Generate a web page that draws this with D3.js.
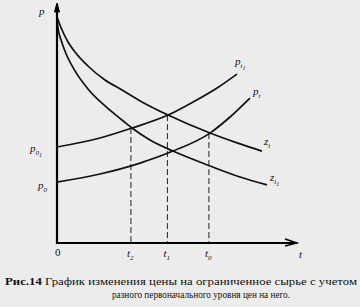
<!DOCTYPE html>
<html><head><meta charset="utf-8">
<script src="https://cdn.jsdelivr.net/npm/d3@7"></script>
<style>
html,body{margin:0;padding:0;background:#ececec;}
svg{display:block;}
</style></head>
<body>
<svg id="c" width="360" height="307"></svg>
<script>
// Data (abstract units: t horizontally, p vertically)
const zUpperT = [0, 0.21, 0.46, 0.75, 1.29, 2.0, 2.71, 3.54, 4.625, 6.375, 7.5, 8.54];
const zUpperP = [9.42, 8.875, 8.375, 7.96, 7.375, 6.79, 6.375, 5.875, 5.33, 4.58, 4.17, 3.83];
const zLowerT = [0, 0.04, 0.17, 0.33, 0.75, 1.29, 2.0, 2.71, 3.125, 3.875, 4.83, 6.375, 7.625, 8.75];
const zLowerP = [9.42, 8.96, 8.46, 8.0, 7.17, 6.42, 5.71, 5.125, 4.79, 4.29, 3.83, 3.21, 2.75, 2.42];
const pUpperT = [0, 1.79, 3.125, 4.625, 5.67, 6.67, 7.5];
const pUpperP = [4.0, 4.375, 4.79, 5.33, 5.875, 6.46, 7.04];
const pLowerT = [0, 1.79, 3.46, 4.83, 6.375, 7.21, 8.04];
const pLowerP = [2.54, 2.875, 3.33, 3.83, 4.58, 5.25, 6.04];
// dashed projections: t value and p level of intersection
const dashT = [3.08, 4.6, 6.33];
const dashP = [4.79, 5.33, 4.58];
const dashSubs = ["2", "1", "0"];
const captionLine1 = ["Рис.14", " График изменения цены на ограниченное сырье с учетом"];
const captionLine2 = "разного первоначального уровня цен на него.";

const FONT = "'Liberation Serif', 'DejaVu Serif', serif";
const svg = d3.select("#c");
const x = d3.scaleLinear().domain([0, 10]).range([57, 297]);
const y = d3.scaleLinear().domain([0, 10]).range([243, 3]);

const line = d3.line().x(d => x(d[0])).y(d => y(d[1])).curve(d3.curveMonotoneX);
const zip = (a, b) => a.map((v, i) => [v, b[i]]);

// dashed lines
dashT.forEach((t, i) => {
  svg.append("line").attr("x1", x(t)).attr("x2", x(t))
    .attr("y1", y(dashP[i])).attr("y2", y(0))
    .attr("stroke", "#222").attr("stroke-width", 1)
    .attr("stroke-dasharray", "6,3");
});

// curves
[[zUpperT, zUpperP], [zLowerT, zLowerP], [pUpperT, pUpperP], [pLowerT, pLowerP]].forEach(([a, b]) => {
  svg.append("path").attr("d", line(zip(a, b)))
    .attr("fill", "none").attr("stroke", "#111").attr("stroke-width", 1.7);
});

// axes
svg.append("line").attr("x1", x(0)).attr("x2", x(0)).attr("y1", y(0) + 1).attr("y2", 5)
  .attr("stroke", "#000").attr("stroke-width", 2.2);
svg.append("path").attr("d", `M${x(0)-2.5},12 L${x(0)},3 L${x(0)+2.5},12 Z`)
  .attr("fill", "#000").attr("stroke", "#000").attr("stroke-width", 1);
svg.append("line").attr("x1", x(0) - 1).attr("x2", 297).attr("y1", y(0)).attr("y2", y(0))
  .attr("stroke", "#000").attr("stroke-width", 2.2);
svg.append("path").attr("d", `M285,${y(0)-4} L297,${y(0)} L285,${y(0)+3}`)
  .attr("fill", "none").attr("stroke", "#000").attr("stroke-width", 1.4);

function label(px, py, main, sub, subsub, size) {
  const t = svg.append("text").attr("x", px).attr("y", py)
    .attr("font-family", FONT).attr("fill", "#111")
    .attr("font-size", size || 11).attr("font-style", "italic");
  t.append("tspan").text(main);
  if (sub) t.append("tspan").attr("font-size", 7).attr("dy", 3).text(sub);
  if (subsub) t.append("tspan").attr("font-size", 6).attr("dy", 2).text(subsub);
  return t;
}

label(39, 15, "p");
label(55, 256, "0").attr("font-style", "normal");
label(299, 258, "t");
label(30, 152, "p", "0", "1");
label(38, 189, "p", "0");
// dashed axis labels
dashT.forEach((t, i) => {
  label(x(t) - 4, 257, "t", dashSubs[i]);
});
// curve labels
label(x(pUpperT[pUpperT.length - 1]) - 2, y(pUpperP[pUpperP.length - 1]) - 9, "p", "t", "1");
label(x(pLowerT[pLowerT.length - 1]) + 3, y(pLowerP[pLowerP.length - 1]) - 3, "p", "t");
label(x(zUpperT[zUpperT.length - 1]) + 2, y(zUpperP[zUpperP.length - 1]) - 6, "z", "t");
label(x(zLowerT[zLowerT.length - 1]) + 3, y(zLowerP[zLowerP.length - 1]) - 4, "z", "t", "1");

// caption
const c1 = svg.append("text").attr("x", 5).attr("y", 285).attr("font-size", 10.5)
  .attr("font-family", FONT).attr("fill", "#111")
  .attr("textLength", 352).attr("lengthAdjust", "spacingAndGlyphs");
c1.append("tspan").attr("font-weight", "bold").text(captionLine1[0]);
c1.append("tspan").text(captionLine1[1]);
svg.append("text").attr("x", 112).attr("y", 298).attr("font-size", 10.5)
  .attr("font-family", FONT).attr("fill", "#111")
  .attr("textLength", 178).attr("lengthAdjust", "spacingAndGlyphs").text(captionLine2);
</script>
</body></html>
